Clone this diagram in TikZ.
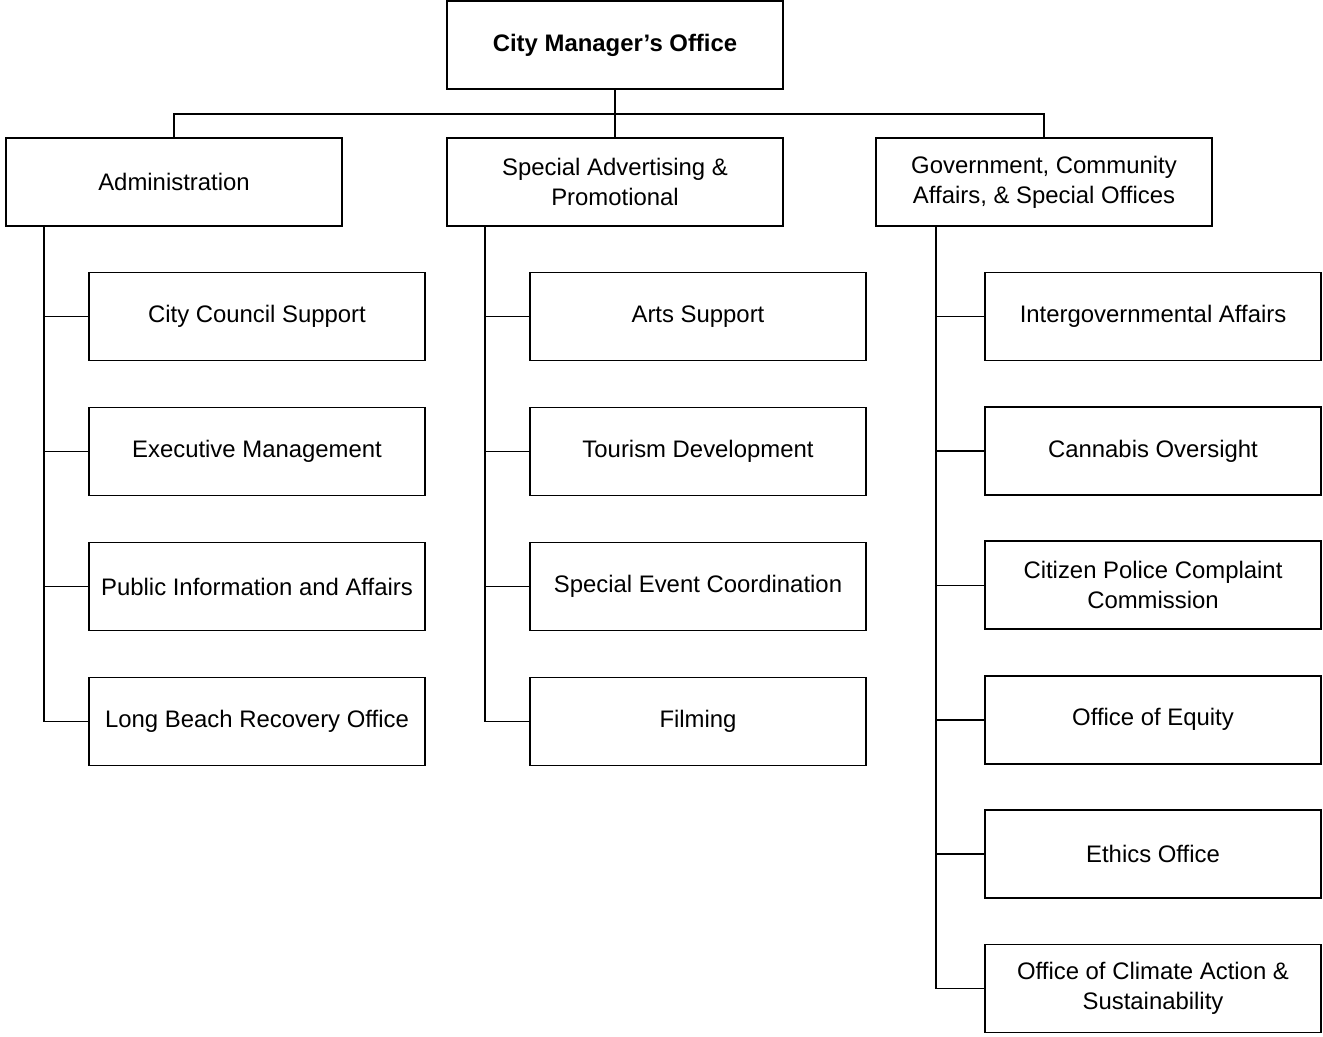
\documentclass[tikz,border=0pt]{standalone}
\usepackage{fontspec}
\setmainfont{Liberation Sans}
\tikzset{
    unit/.style={draw, line width=1.1pt, minimum width=6.72cm, minimum height=1.76cm,
        align=center, inner sep=1pt, font=\fontsize{13.6}{17}\selectfont},
    link/.style={line width=0.9pt}
}

\begin{document}
\begin{tikzpicture}[x=0.02cm,y=-0.02cm]
    \useasboundingbox (0,0) rectangle (1323,1036);
    % head office and the three divisions
    \node[unit, font=\fontsize{13.6}{17}\selectfont\bfseries] (cmo) at (615,45) {City Manager’s Office};
    \node[unit] (adm) at (174,182) {Administration};
    \node[unit] (sap) at (615,182) {Special Advertising \&\\Promotional};
    \node[unit] (gov) at (1044,182) {Government, Community\\Affairs, \& Special Offices};
    \coordinate (bus) at (615,114);
    \draw[link] (cmo.south) -- (bus);
    \draw[link] (bus) -| (adm.north);
    \draw[link] (bus) -| (gov.north);
    \draw[link] (bus) -- (sap.north);

    % trunks under each division
    \coordinate (admtrunk) at (44,226);
    \coordinate (saptrunk) at (485,226);
    \coordinate (govtrunk) at (936,226);

    \foreach \i/\txt in {1/City Council Support, 2/Executive Management,
                         3/Public Information and Affairs, 4/Long Beach Recovery Office}{
        \node[unit] (adm\i) at (257,316.5+135*\i-135) {\txt};
        \draw[link] (admtrunk) |- (adm\i.west);
    }
    \foreach \i/\txt in {1/Arts Support, 2/Tourism Development,
                         3/Special Event Coordination, 4/Filming}{
        \node[unit] (sap\i) at (698,316.5+135*\i-135) {\txt};
        \draw[link] (saptrunk) |- (sap\i.west);
    }
    \foreach \i/\txt in {1/Intergovernmental Affairs, 2/Cannabis Oversight,
                         3/Citizen Police Complaint\\Commission, 4/Office of Equity,
                         5/Ethics Office, 6/Office of Climate Action \&\\Sustainability}{
        \node[unit] (gov\i) at (1153,316.5+134.4*\i-134.4) {\txt};
        \draw[link] (govtrunk) |- (gov\i.west);
    }
\end{tikzpicture}
\end{document}
